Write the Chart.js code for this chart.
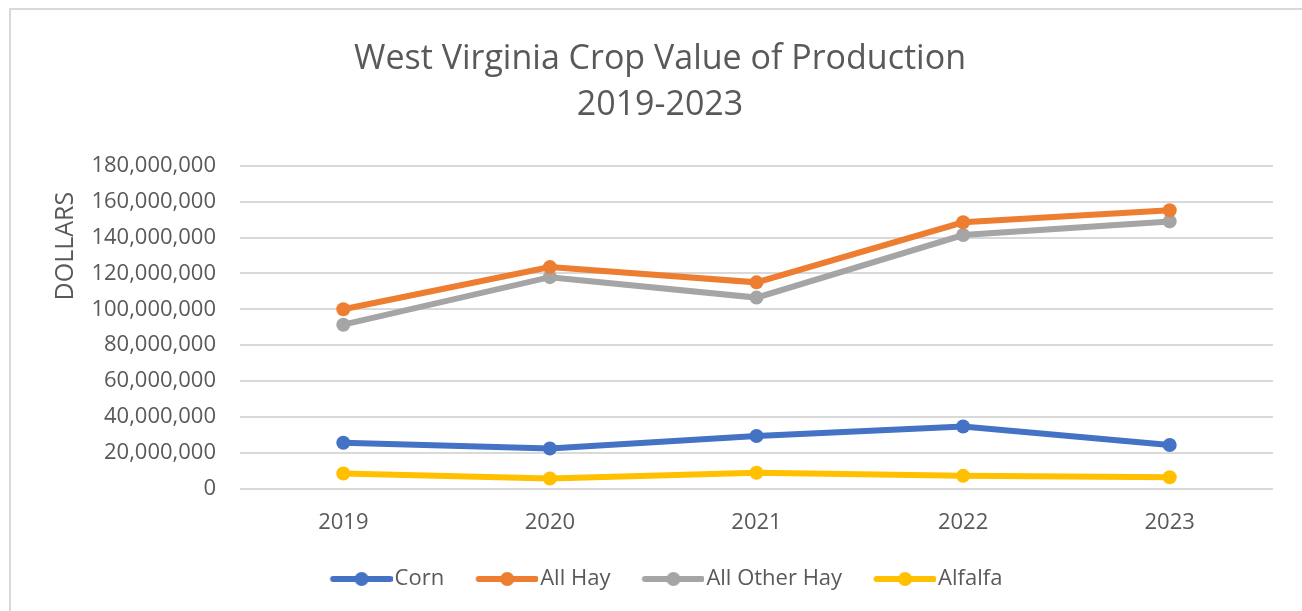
<!DOCTYPE html>
<html>
<head>
<meta charset="utf-8">
<script src="https://cdn.jsdelivr.net/npm/chart.js@4"></script>
<style>
    body { margin: 0; background: #fff; }
    #wrap { position: relative; width: 1302px; height: 611px; }
    #frame { position: absolute; left: 9px; top: 8px; width: 1300px; height: 610px; border: 2px solid #d9d9d9; box-sizing: border-box; pointer-events: none; }
</style>
</head>
<body>
<div id="wrap">
    <canvas id="cropChart" width="1302" height="611"></canvas>
    <div id="frame"></div>
</div>
<script>
const years = ["2019", "2020", "2021", "2022", "2023"];
const corn = [25600000, 22400000, 29300000, 34600000, 24300000];
const allHay = [100000000, 123500000, 115000000, 148500000, 155200000];
const allOtherHay = [91400000, 117900000, 106500000, 141400000, 149000000];
const alfalfa = [8400000, 5600000, 8800000, 7100000, 6300000];

const FONT = "'Open Sans', sans-serif";
const TEXT = "#595959";

// legend marker: a line with a dot in the middle, pushed to the right of its box
function legendMarker(color) {
    const c = document.createElement("canvas");
    c.width = 84;
    c.height = 16;
    const g = c.getContext("2d");
    g.strokeStyle = color;
    g.lineWidth = 6;
    g.lineCap = "round";
    g.beginPath();
    g.moveTo(24.5, 8);
    g.lineTo(81.5, 8);
    g.stroke();
    g.fillStyle = color;
    g.beginPath();
    g.arc(53, 8, 7, 0, Math.PI * 2);
    g.fill();
    return c;
}

function series(label, data, color) {
    return {
        label: label,
        data: data,
        borderColor: color,
        backgroundColor: color,
        borderWidth: 6,
        pointRadius: 7,
        pointBorderWidth: 0,
        pointBackgroundColor: color,
        fill: false,
        tension: 0
    };
}

const ctx = document.getElementById("cropChart").getContext("2d");

new Chart(ctx, {
    type: "line",
    data: {
        labels: years,
        datasets: [
            series("Corn", corn, "#4472C4"),
            series("All Hay", allHay, "#ED7D31"),
            series("All Other Hay", allOtherHay, "#A5A5A5"),
            series("Alfalfa", alfalfa, "#FFC000")
        ]
    },
    options: {
        responsive: false,
        animation: false,
        layout: { padding: { left: 47, right: 29, top: 14, bottom: 11 } },
        plugins: {
            title: {
                display: true,
                text: ["West Virginia Crop Value of Production", "2019-2023"],
                color: TEXT,
                font: { family: FONT, size: 34, weight: "normal", lineHeight: 1.35 },
                padding: { top: 22, bottom: 38 }
            },
            legend: {
                position: "bottom",
                labels: {
                    usePointStyle: true,
                    pointStyleWidth: 66,
                    boxHeight: 16,
                    padding: 19,
                    color: TEXT,
                    font: { family: FONT, size: 22 },
                    generateLabels(chart) {
                        return Chart.defaults.plugins.legend.labels.generateLabels(chart).map(item => {
                            item.pointStyle = legendMarker(chart.data.datasets[item.datasetIndex].borderColor);
                            return item;
                        });
                    }
                }
            },
            tooltip: { enabled: false }
        },
        scales: {
            x: {
                offset: true,
                grid: { display: false },
                border: { display: false },
                ticks: { color: TEXT, font: { family: FONT, size: 22 }, padding: 13 }
            },
            y: {
                min: 0,
                max: 180000000,
                afterFit(scale) { scale.width = 193; },
                grid: { color: "#d9d9d9", lineWidth: 2, drawTicks: false },
                border: { display: false },
                ticks: {
                    stepSize: 20000000,
                    color: TEXT,
                    padding: 24,
                    font: { family: FONT, size: 22 },
                    callback: v => v.toLocaleString("en-US")
                },
                title: {
                    display: true,
                    text: "DOLLARS    ",
                    align: "end",
                    color: TEXT,
                    font: { family: FONT, size: 25 }
                }
            }
        }
    }
});
</script>
</body>
</html>
